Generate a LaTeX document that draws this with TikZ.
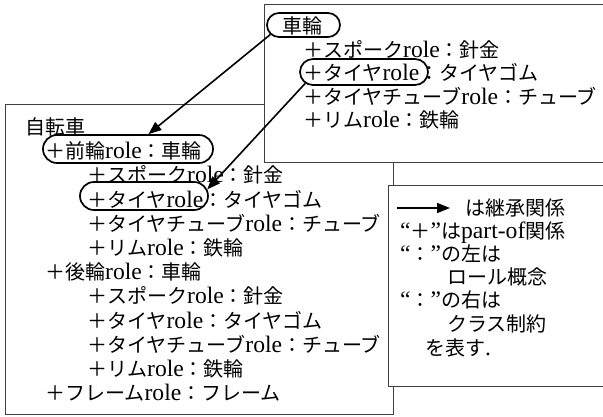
\documentclass[tikz,border=0pt]{standalone}
\usepackage{fontspec}
\setmainfont[Scale=1.18]{Liberation Serif}
\newfontfamily\jp{Noto Sans CJK JP}
\usetikzlibrary{arrows.meta,shapes.misc}
\newcommand\J[1]{{\jp #1}}
\begin{document}
\begin{tikzpicture}[x=1pt,y=-1pt,
  font=\fontsize{20pt}{24pt}\selectfont,
  box/.style={draw=black!75, line width=1pt, fill=white},
  txt/.style={anchor=base west, inner sep=0pt},
  oval/.style={draw, line width=1.7pt, rounded rectangle, inner sep=0pt},
  arr/.style={line width=1.6pt, -{Triangle[length=13pt,width=10pt]}}]
\useasboundingbox (0,0) rectangle (603,416);
\clip (0,0) rectangle (603,416);
% left box
\draw[box] (5,104) rectangle (393,414);
\node[txt] (b0) at (25,134.5) {\J{自転車}};
\node[txt] (b1) at (45,158.7) {\J{＋前輪}role\J{：車輪}};
\node[txt] (b2) at (87,182.9) {\J{＋スポーク}role\J{：針金}};
\node[txt] (b3) at (87,207.1) {\J{＋タイヤ}role\J{：タイヤゴム}};
\node[txt] (b4) at (87,231.3) {\J{＋タイヤチューブ}role\J{：チューブ}};
\node[txt] (b5) at (87,255.5) {\J{＋リム}role\J{：鉄輪}};
\node[txt] (b6) at (45,279.7) {\J{＋後輪}role\J{：車輪}};
\node[txt] (b7) at (87,303.9) {\J{＋スポーク}role\J{：針金}};
\node[txt] (b8) at (87,328.1) {\J{＋タイヤ}role\J{：タイヤゴム}};
\node[txt] (b9) at (87,352.3) {\J{＋タイヤチューブ}role\J{：チューブ}};
\node[txt] (b10) at (87,376.5) {\J{＋リム}role\J{：鉄輪}};
\node[txt] (b11) at (45,400.7) {\J{＋フレーム}role\J{：フレーム}};
\node[oval, minimum width=170pt, minimum height=28pt] (frontO) at (128,149) {};
\node[oval, minimum width=128pt, minimum height=28pt] (leftTireO) at (144,196) {};
% top box
\draw[box] (264,4) rectangle (620,162);
\node[txt] (t0) at (282,33.5) {\J{車輪}};
\node[txt] (t1) at (303,57.7) {\J{＋スポーク}role\J{：針金}};
\node[txt] (t2) at (303,80.9) {\J{＋タイヤ}role\J{：タイヤゴム}};
\node[txt] (t3) at (303,104.1) {\J{＋タイヤチューブ}role\J{：チューブ}};
\node[txt] (t4) at (303,127.3) {\J{＋リム}role\J{：鉄輪}};
\node[oval, minimum width=73pt, minimum height=24pt] (kurinO) at (303.5,25) {};
\node[oval, minimum width=128pt, minimum height=26pt] (topTireO) at (364,72) {};
% legend box
\draw[box] (388,185) rectangle (620,386);
\coordinate (la) at (397,208);
\coordinate (lb) at (450,208);
\draw[arr] (la) -- (lb);
\node[txt] (l0) at (465,215.5) {\J{は継承関係}};
\node[txt] (l1) at (400,238) {“\J{＋}”\J{は}part-of\J{関係}};
\node[txt] (l2) at (400,261) {“\J{：}”\J{の左は}};
\node[txt] (l3) at (447,284.5) {\J{ロール概念}};
\node[txt] (l4) at (400,307.5) {“\J{：}”\J{の右は}};
\node[txt] (l5) at (447,331.5) {\J{クラス制約}};
\node[txt] (l6) at (425,355.5) {\J{を表す}.};
% arrows
\draw[arr] (kurinO.196) -- (frontO.36);
\draw[arr] (topTireO.191) -- (leftTireO.6);
\end{tikzpicture}
\end{document}
